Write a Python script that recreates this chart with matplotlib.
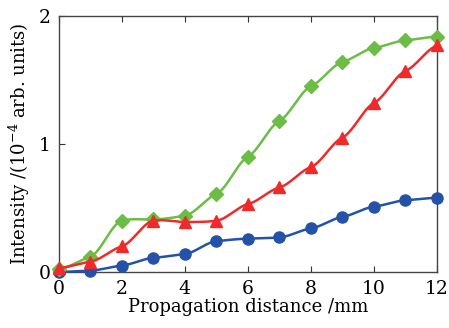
import numpy as np
import matplotlib
matplotlib.use("Agg")
import matplotlib.pyplot as plt

x = [0, 1, 2, 3, 4, 5, 6, 7, 8, 9, 10, 11, 12]
green = [0.02, 0.12, 0.40, 0.41, 0.44, 0.61, 0.90, 1.18, 1.45, 1.64, 1.75, 1.81, 1.84]
red = [0.03, 0.08, 0.20, 0.40, 0.39, 0.40, 0.53, 0.66, 0.82, 1.05, 1.32, 1.57, 1.77]
blue = [0.00, 0.01, 0.05, 0.11, 0.14, 0.24, 0.26, 0.27, 0.34, 0.43, 0.51, 0.56, 0.58]

xticks = [0, 2, 4, 6, 8, 10, 12]
yticks = [0, 1, 2]


def hermite(xs, ys, k=0.45, n=40):
    xs = np.asarray(xs, float)
    ys = np.asarray(ys, float)
    d = np.gradient(ys, xs) * k
    X, Y = [], []
    for i in range(len(xs) - 1):
        h = xs[i + 1] - xs[i]
        t = np.linspace(0, 1, n, endpoint=(i == len(xs) - 2))
        h00 = 2 * t**3 - 3 * t**2 + 1
        h10 = t**3 - 2 * t**2 + t
        h01 = -2 * t**3 + 3 * t**2
        h11 = t**3 - t**2
        X.append(xs[i] + t * h)
        Y.append(h00 * ys[i] + h10 * h * d[i] + h01 * ys[i + 1] + h11 * h * d[i + 1])
    return np.concatenate(X), np.concatenate(Y)


plt.rcParams["font.family"] = ["DejaVu Serif"]
plt.rcParams["mathtext.fontset"] = "dejavuserif"

fig = plt.figure(figsize=(4.49, 3.28), dpi=100)
ax = fig.add_axes([0.131, 0.171, 0.842, 0.780])

series = [
    (blue, "#2352a8", "o", 8, 3),
    (green, "#6cbd45", "D", 7, 4),
    (red, "#f02a2a", "^", 8, 5),
]
for ys, col, mk, ms, z in series:
    xx, yy = hermite(x, ys)
    ax.plot(xx, yy, color=col, lw=1.8, clip_on=False, zorder=z)
    ax.plot(x, ys, ls="none", marker=mk, color=col, ms=ms, clip_on=False, zorder=z + 0.5)

ax.set_xlim(0, 12)
ax.set_ylim(0, 2)
ax.set_xticks(xticks)
ax.set_yticks(yticks)
ax.tick_params(direction="in", top=True, right=False, length=4, width=0.8,
               labelsize=13.5, colors="#333333", labelcolor="black", pad=6)
for s in ax.spines.values():
    s.set_color("#444444")
    s.set_linewidth(1.0)

ax.set_xlabel("Propagation distance /mm", fontsize=13, labelpad=0)
ax.set_ylabel("Intensity /(10$^{-4}$ arb. units)", fontsize=13, labelpad=5)

fig.savefig("out.png", dpi=100)
